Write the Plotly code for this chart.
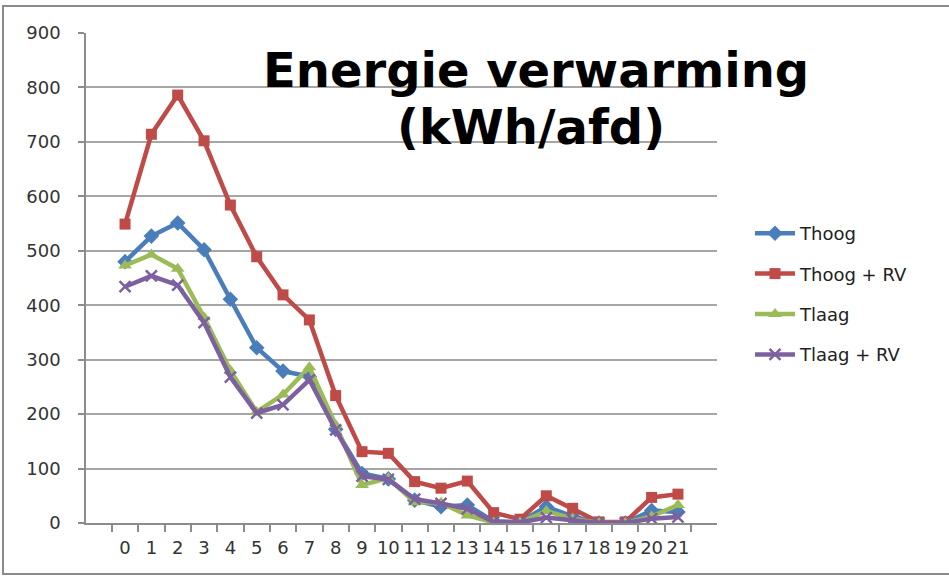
import plotly.graph_objects as go

# Hours of the day (categories on the x axis)
hours = [str(h) for h in range(22)]

# Heating energy per series (kWh/afd)
thoog = [480, 527, 551, 502, 411, 322, 279, 269, 172, 91, 81, 42, 30, 33, 3, 2, 30, 12, 0, 0, 23, 20]
thoog_rv = [549, 714, 786, 702, 584, 489, 419, 373, 234, 131, 128, 76, 64, 77, 19, 7, 50, 27, 2, 2, 47, 53]
tlaag = [473, 493, 467, 378, 280, 204, 236, 286, 180, 70, 82, 38, 37, 14, 1, 1, 22, 8, 0, 0, 12, 33]
tlaag_rv = [434, 454, 437, 368, 268, 202, 217, 263, 171, 86, 80, 44, 36, 26, 2, 1, 10, 6, 0, 0, 8, 11]

series_names = ["Thoog", "Thoog + RV", "Tlaag", "Tlaag + RV"]
y_ticks = [0, 100, 200, 300, 400, 500, 600, 700, 800, 900]

styles = [
    dict(color="#4A7EBB", symbol="diamond", size=12),
    dict(color="#BE4B48", symbol="square", size=11),
    dict(color="#9BBB59", symbol="triangle-up", size=12),
    dict(color="#7D60A0", symbol="x-thin", size=11),
]

fig = go.Figure()
for name, values, st in zip(series_names, [thoog, thoog_rv, tlaag, tlaag_rv], styles):
    marker = dict(symbol=st["symbol"], size=st["size"], color=st["color"])
    if st["symbol"] == "x-thin":
        marker["line"] = dict(color=st["color"], width=2.5)
    fig.add_trace(go.Scatter(
        x=hours, y=values, name=name, legendgroup=name,
        mode="lines+markers",
        line=dict(color=st["color"], width=4.5),
        marker=marker,
    ))

# Plot area geometry in pixels
W, H = 949, 578
L, R, T, B = 86, 717, 33, 523
pw, ph = R - L, B - T


def px_x(x):
    return (x - L) / pw


def px_y(y):
    return (B - y) / ph


tick_font = dict(family="DejaVu Sans", size=18, color="#333333")

fig.update_layout(
    width=W, height=H,
    margin=dict(l=L, r=W - R, t=T, b=H - B, pad=0),
    paper_bgcolor="white", plot_bgcolor="white",
    showlegend=True,
    legend=dict(
        x=px_x(750), y=px_y(215), xanchor="left", yanchor="top",
        font=dict(family="DejaVu Sans", size=18, color="#222222"),
        traceorder="grouped", tracegroupgap=14,
        bgcolor="rgba(0,0,0,0)", itemwidth=40,
    ),
    xaxis=dict(
        type="category", tickson="boundaries", tickangle=0,
        showline=True, linecolor="#8c8c8c", linewidth=1.5,
        ticks="outside", ticklen=7, tickcolor="#8c8c8c", tickwidth=1.5,
        showgrid=False, tickfont=tick_font, ticklabelstandoff=8,
        zeroline=False,
    ),
    yaxis=dict(
        range=[0, 900], tickvals=y_ticks,
        showline=True, linecolor="#8c8c8c", linewidth=1.5,
        ticks="outside", ticklen=6, tickcolor="#8c8c8c", tickwidth=1.5,
        showgrid=True, gridcolor="#a6a6a6", gridwidth=1.5,
        tickfont=tick_font, ticklabelstandoff=14, zeroline=False,
    ),
    annotations=[
        dict(text="<b>Energie verwarming</b>", x=px_x(536), y=px_y(70),
             xref="paper", yref="paper", showarrow=False,
             xanchor="center", yanchor="middle",
             font=dict(family="DejaVu Sans", size=48, color="black")),
        dict(text="<b>(kWh/afd)</b>", x=px_x(531), y=px_y(127),
             xref="paper", yref="paper", showarrow=False,
             xanchor="center", yanchor="middle",
             font=dict(family="DejaVu Sans", size=48, color="black")),
    ],
    shapes=[
        dict(type="rect", xref="paper", yref="paper",
             x0=px_x(3), x1=px_x(965), y0=px_y(574), y1=px_y(6),
             line=dict(color="#8a8a8a", width=2), layer="below"),
    ],
)

fig.write_html("out.html")
